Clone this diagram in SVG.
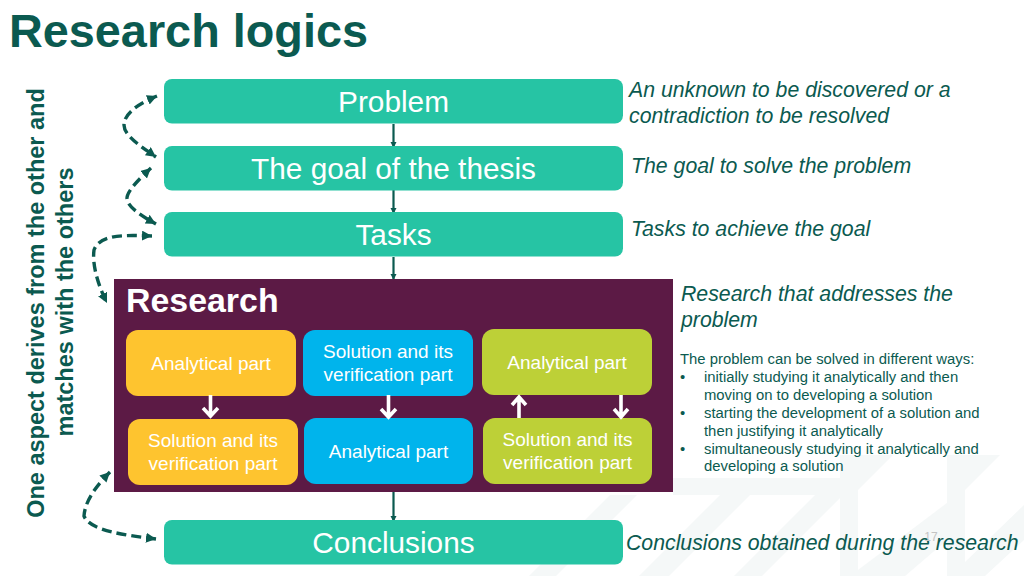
<svg xmlns="http://www.w3.org/2000/svg" width="1024" height="576" viewBox="0 0 1024 576">
<style>
text{font-family:"Liberation Sans",Arial,sans-serif}
.g{fill:#26c4a4}
.gt{fill:#fff;font-size:29.800px;text-anchor:middle}
.note{fill:#0b5a50;font-size:21.270px;font-style:italic}
.in{fill:#fff;font-size:19px;text-anchor:middle}
.side{fill:#0b5a50;font-size:23.500px;font-weight:bold;text-anchor:middle}
.body{fill:#0b5a50;font-size:14.850px}
.dash{fill:none;stroke:#0b5a50;stroke-width:3.400;stroke-dasharray:10 5;marker-end:url(#da);marker-start:url(#da)}
.solid{fill:none;stroke:#0b5a50;stroke-width:2.200;marker-end:url(#sa)}
.white{fill:none;stroke:#fff;stroke-width:3.600}
.wm{fill:#f5f8f8}
</style>
<defs>
<marker id="da" markerUnits="userSpaceOnUse" markerWidth="12" markerHeight="12" refX="10" refY="5" orient="auto-start-reverse"><path d="M0 0L10 5L0 10z" fill="#0b5a50"/></marker>
<marker id="sa" markerUnits="userSpaceOnUse" markerWidth="7" markerHeight="7" refX="6" refY="3" orient="auto"><path d="M0 0L6 3L0 6z" fill="#0b5a50"/></marker>
</defs>
<rect width="1024" height="576" fill="#fff"/>
<g id="watermark">
<path class="wm" d="M673 478H840V455H858H893L858 490V495H843L762 576H734L815 495H750L669 576H639L720 495H637L556 576H529L610 495H673Z"/>
<path class="wm" d="M840 495H858V576H840Z"/>
<path class="wm" d="M947 455H1000L965 490V576H947Z"/>
<path class="wm" d="M947 503L858 570V576H905L947 540Z"/>
<path class="wm" d="M1024 505L965 562V576H985L1024 540Z"/>
</g>
<text id="title" x="9" y="47" font-size="46.800" font-weight="bold" fill="#0b5a50">Research logics</text>
<g id="side-label">
<text class="side" transform="translate(44 303) rotate(-90)">One aspect derives from the other and</text>
<text class="side" transform="translate(73 302) rotate(-90)">matches with the others</text>
</g>
<g id="connectors">
<path class="solid" d="M393.500 124V148"/>
<path class="solid" d="M393.500 190V214"/>
<path class="solid" d="M393.500 257V280"/>
<path class="solid" d="M393.500 492V522"/>
<path class="dash" d="M157 96C140 103 124 113 124 125C124 136 142 147 156 157"/>
<path class="dash" d="M151 168C140 178 126 192 127 199C128 208 145 218 156 224"/>
<path class="dash" d="M152 236C125 235 100 234 94 250C92 265 98 285 107 303"/>
<path class="dash" d="M110 472C98 484 85 500 84 516C90 531 125 535 156 539"/>
</g>
<g id="problem"><rect class="g" x="164" y="79" width="459" height="44.500" rx="8"/><text class="gt" x="393.500" y="112">Problem</text></g>
<g id="goal"><rect class="g" x="164" y="146" width="459" height="44.500" rx="8"/><text class="gt" x="393.500" y="179">The goal of the thesis</text></g>
<g id="tasks"><rect class="g" x="164" y="212" width="459" height="44.500" rx="8"/><text class="gt" x="393.500" y="245">Tasks</text></g>
<g id="research">
<rect x="114" y="279" width="559" height="213" fill="#5c1a45"/>
<text x="126" y="312" font-size="33.900" font-weight="bold" fill="#fff">Research</text>
</g>
<g id="a1"><rect x="126" y="330" width="170" height="66" rx="12" fill="#fec42f"/><text class="in" x="211" y="370">Analytical part</text></g>
<g id="a2"><rect x="128" y="419" width="170" height="66" rx="12" fill="#fec42f"/><text class="in" x="213" y="447">Solution and its</text><text class="in" x="213" y="470">verification part</text></g>
<g id="b1"><rect x="303" y="330" width="170" height="66" rx="12" fill="#00b4ec"/><text class="in" x="388" y="358">Solution and its</text><text class="in" x="388" y="381">verification part</text></g>
<g id="b2"><rect x="304" y="418" width="169" height="66" rx="12" fill="#00b4ec"/><text class="in" x="388.500" y="458">Analytical part</text></g>
<g id="c1"><rect x="482" y="329" width="170" height="66" rx="12" fill="#bdd037"/><text class="in" x="567" y="369">Analytical part</text></g>
<g id="c2"><rect x="483" y="418" width="169" height="66" rx="12" fill="#bdd037"/><text class="in" x="567.500" y="446">Solution and its</text><text class="in" x="567.500" y="469">verification part</text></g>
<g id="conclusions"><rect class="g" x="164" y="520" width="459" height="44.500" rx="8"/><text class="gt" x="393.500" y="553">Conclusions</text></g>
<g id="inner-arrows">
<path class="white" d="M210.500 395V415M203 408L210.500 416L218 408"/>
<path class="white" d="M388.500 395V416M381 409L388.500 417L396 409"/>
<path class="white" d="M519 418V398M512 405L519 397L526 405"/>
<path class="white" d="M621 395V416M614 409L621 417L628 409"/>
</g>
<g id="notes">
<text class="note" x="629" y="97">An unknown to be discovered or a</text>
<text class="note" x="629" y="123">contradiction to be resolved</text>
<text class="note" x="631" y="173">The goal to solve the problem</text>
<text class="note" x="631" y="236">Tasks to achieve the goal</text>
<text class="note" x="681" y="301">Research that addresses the</text>
<text class="note" x="681" y="327">problem</text>
<text class="note" x="626" y="550">Conclusions obtained during the research</text>
<text x="931" y="541" font-size="12" fill="#c4c4c4" text-anchor="middle">17</text>
</g>
<g id="ways">
<text class="body" x="680" y="364">The problem can be solved in different ways:</text>
<text class="body" x="680" y="382">•</text><text class="body" x="704" y="382">initially studying it analytically and then</text>
<text class="body" x="704" y="400">moving on to developing a solution</text>
<text class="body" x="680" y="418">•</text><text class="body" x="704" y="418">starting the development of a solution and</text>
<text class="body" x="704" y="436">then justifying it analytically</text>
<text class="body" x="680" y="454">•</text><text class="body" x="704" y="454">simultaneously studying it analytically and</text>
<text class="body" x="704" y="471">developing a solution</text>
</g>
</svg>
